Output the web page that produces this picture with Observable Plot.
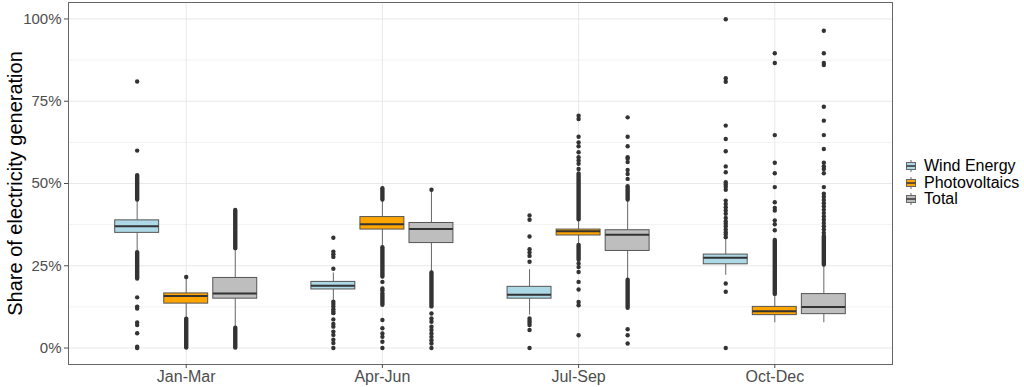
<!DOCTYPE html>
<html><head><meta charset="utf-8">
<script src="https://cdn.jsdelivr.net/npm/d3@7"></script>
<script src="https://cdn.jsdelivr.net/npm/@observablehq/plot@0.6"></script>
<style>
body{margin:0;background:#fff;font-family:"Liberation Sans",Arial,sans-serif}
#wrap{position:relative;width:1024px;height:387px}
#legend{position:absolute;left:905px;top:158px;font-size:16px;color:#000;line-height:16.5px}
.item{display:flex;align-items:center;height:16.5px;white-space:nowrap}
.item svg{margin-right:7px}
</style></head><body><div id="wrap"><div id="chart"></div><div id="legend"></div></div>
<script>
const quarters = ["Jan-Mar", "Apr-Jun", "Jul-Sep", "Oct-Dec"];
const series = ["Wind Energy", "Photovoltaics", "Total"];
const colors = ["#ADD8E6", "#FFA500", "#BEBEBE"];
const yTicks = [0, 0.25, 0.5, 0.75, 1];
const yMinor = [0.125, 0.375, 0.625, 0.875];
const yLabel = "Share of electricity generation";

// [lower whisker, Q1, median, Q3, upper whisker] per quarter
const windStats = [[0.292, 0.350, 0.370, 0.388, 0.450], [0.145, 0.178, 0.189, 0.201, 0.228], [0.100, 0.150, 0.162, 0.186, 0.238], [0.221, 0.2545, 0.274, 0.284, 0.332]];
const pvStats = [[0.090, 0.135, 0.158, 0.166, 0.216], [0.307, 0.360, 0.376, 0.398, 0.448], [0.312, 0.342, 0.355, 0.360, 0.388], [0.077, 0.100, 0.112, 0.125, 0.161]];
const totalStats = [[0.060, 0.150, 0.166, 0.213, 0.302], [0.228, 0.319, 0.362, 0.380, 0.481], [0.206, 0.295, 0.344, 0.358, 0.450], [0.077, 0.103, 0.125, 0.164, 0.252]];

// individual outliers per quarter
const windOutliers = [
  [0.60, 0.81, 0.154, 0.126, 0.12, 0.078, 0.07, 0.045, 0.004, 0.0],
  [0.241, 0.277, 0.285, 0.293, 0.335, 0.141, 0.134, 0.126, 0.118, 0.111, 0.106, 0.087, 0.073, 0.065, 0.05, 0.04, 0.025, 0.015, 0.0],
  [0.262, 0.28, 0.29, 0.30, 0.339, 0.39, 0.403, 0.09, 0.083, 0.077, 0.07, 0.055, 0.0],
  [0.337, 0.345, 0.352, 0.36, 0.37, 0.378, 0.385, 0.395, 0.408, 0.418, 0.428, 0.438, 0.448, 0.481, 0.49, 0.497, 0.504, 0.534, 0.552, 0.598, 0.635, 0.676, 0.809, 0.82, 0.999, 0.196, 0.171, 0.0]
];
const pvOutliers = [
  [0.216],
  [0.201, 0.181, 0.176, 0.085, 0.060, 0.044, 0.034, 0.019, 0.0],
  [0.544, 0.56, 0.570, 0.58, 0.595, 0.613, 0.625, 0.642, 0.696, 0.706, 0.257, 0.246, 0.231, 0.201, 0.178, 0.140, 0.130, 0.039],
  [0.358, 0.376, 0.388, 0.418, 0.426, 0.443, 0.489, 0.531, 0.563, 0.647, 0.866, 0.896]
];
const totalOutliers = [
  [],
  [0.481, 0.105, 0.090, 0.080, 0.065, 0.055, 0.044, 0.034, 0.024, 0.014, 0.0],
  [0.514, 0.529, 0.541, 0.565, 0.575, 0.58, 0.613, 0.642, 0.701, 0.057, 0.039, 0.014],
  [0.35, 0.36, 0.37, 0.38, 0.39, 0.40, 0.41, 0.42, 0.43, 0.44, 0.45, 0.46, 0.469, 0.489, 0.531, 0.544, 0.552, 0.563, 0.605, 0.647, 0.691, 0.733, 0.86, 0.866, 0.896, 0.964]
];
// densely packed outlier runs [from, to] per quarter
const windDense = [[[0.45, 0.524], [0.21, 0.29]], [], [], []];
const pvDense = [[[0.0, 0.088]], [[0.45, 0.484], [0.216, 0.305], [0.13, 0.166]], [[0.39, 0.529], [0.267, 0.312]], [[0.163, 0.327]]];
const totalDense = [[[0.302, 0.418], [0.0, 0.06]], [[0.125, 0.228]], [[0.45, 0.49], [0.121, 0.206]], [[0.252, 0.34]]];

const offsets = [-0.25, 0, 0.25];
const halfWidth = 0.112;
const allStats = [windStats, pvStats, totalStats];
const allOut = [windOutliers, pvOutliers, totalOutliers];
const allDense = [windDense, pvDense, totalDense];

const boxes = [], outs = [], dense = [];
series.forEach((s, si) => quarters.forEach((q, qi) => {
  const x = qi + 1 + offsets[si];
  const [lo, q1, md, q3, hi] = allStats[si][qi];
  boxes.push({s, si, x, lo, q1, md, q3, hi});
  allOut[si][qi].forEach(v => outs.push({x, v}));
  allDense[si][qi].forEach(([a, b]) => dense.push({x, a, b}));
}));

const chart = Plot.plot({
  width: 1024, height: 387,
  marginLeft: 68, marginRight: 132, marginTop: 2, marginBottom: 23,
  style: {fontFamily: '"Liberation Sans", Arial, sans-serif', background: "#fff", overflow: "visible"},
  x: {domain: [0.4, 4.6], axis: null},
  y: {domain: [-0.05, 1.05], axis: null},
  marks: [
    Plot.gridY(yMinor, {stroke: "#f2f2f2", strokeOpacity: 1}),
    Plot.gridY(yTicks, {stroke: "#e8e8e8", strokeOpacity: 1}),
    Plot.gridX([1, 2, 3, 4], {stroke: "#e8e8e8", strokeOpacity: 1}),
    Plot.ruleX(boxes, {x: "x", y1: "lo", y2: "q1", stroke: "#666"}),
    Plot.ruleX(boxes, {x: "x", y1: "q3", y2: "hi", stroke: "#666"}),
    Plot.ruleX(dense, {x: "x", y1: "a", y2: "b", stroke: "#333", strokeWidth: 4.4, strokeLinecap: "round"}),
    Plot.dot(outs, {x: "x", y: "v", r: 2.2, fill: "#333", stroke: null}),
    Plot.rect(boxes, {x1: d => d.x - halfWidth, x2: d => d.x + halfWidth, y1: "q1", y2: "q3", fill: d => colors[d.si], stroke: "#555", strokeWidth: 1}),
    Plot.ruleY(boxes, {y: "md", x1: d => d.x - halfWidth, x2: d => d.x + halfWidth, stroke: "#333", strokeWidth: 2}),
    Plot.frame({stroke: "#666"}),
    Plot.axisY({ticks: yTicks, tickFormat: d => Math.round(d * 100) + "%", fontSize: 15, tickSize: 4, tickPadding: 3, label: null, color: "#4d4d4d"}),
    Plot.axisX({ticks: [1, 2, 3, 4], tickFormat: d => quarters[d - 1], fontSize: 16, tickSize: 4, tickPadding: 2, label: null, color: "#4d4d4d"}),
    Plot.text([yLabel], {frameAnchor: "left", textAnchor: "middle", rotate: -90, dx: -53, fontSize: 20, fill: "#000"})
  ]
});
document.getElementById("chart").appendChild(chart);

const legend = d3.select("#legend");
series.forEach((s, i) => {
  const item = legend.append("div").attr("class", "item");
  const svg = item.append("svg").attr("width", 12).attr("height", 14);
  svg.append("line").attr("x1", 6).attr("x2", 6).attr("y1", 1).attr("y2", 13).attr("stroke", "#666");
  svg.append("rect").attr("x", 1.5).attr("y", 3.5).attr("width", 9).attr("height", 7).attr("fill", colors[i]).attr("stroke", "#666");
  svg.append("line").attr("x1", 1.5).attr("x2", 10.5).attr("y1", 7).attr("y2", 7).attr("stroke", "#333").attr("stroke-width", 1.5);
  item.append("span").text(s);
});
</script></body></html>
